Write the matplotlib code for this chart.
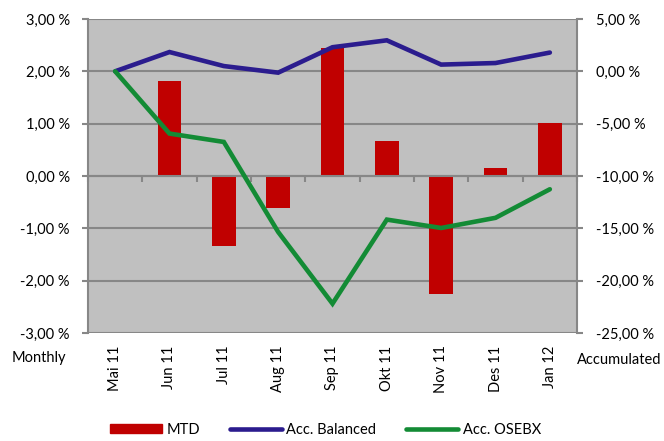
import matplotlib.pyplot as plt
import numpy as np
from matplotlib.ticker import FuncFormatter
from matplotlib.patches import Patch
from matplotlib.lines import Line2D

plt.rcParams['font.family'] = ['Lato', 'DejaVu Sans']

# data (percent)
months = ['Mai 11', 'Jun 11', 'Jul 11', 'Aug 11', 'Sep 11', 'Okt 11', 'Nov 11', 'Des 11', 'Jan 12']
mtd = [0.0, 1.82, -1.33, -0.62, 2.45, 0.66, -2.26, 0.15, 1.02]
acc_balanced = [0.0, 1.84, 0.50, -0.13, 2.30, 2.96, 0.64, 0.79, 1.79]
acc_osebx = [0.0, -5.95, -6.75, -15.35, -22.2, -14.17, -14.97, -14.0, -11.27]

red = '#C00000'
blue = '#2B1C8E'
green = '#138B35'
gray = '#878787'

def pct(v, pos):
    return ('%.2f %%' % v).replace('.', ',')

fig = plt.figure(figsize=(6.64, 4.41), dpi=100)
ax = fig.add_axes([0.1325, 0.245, 0.7365, 0.712])
ax.set_facecolor('#C0C0C0')

x = np.arange(len(months))
ax.bar(x, mtd, width=0.43, color=red, zorder=2)
ax.set_xlim(-0.5, len(months) - 0.5)
ax.set_ylim(-3, 3)
ax.set_yticks(np.arange(-3, 3.1, 1))
ax.yaxis.set_major_formatter(FuncFormatter(pct))
ax.grid(axis='y', color=gray, lw=1.5, zorder=0)
ax.set_axisbelow(True)

# category axis sits on the zero line, ticks at bin edges
ax.spines['bottom'].set_position(('data', 0))
ax.spines['bottom'].set_color(gray)
ax.spines['bottom'].set_linewidth(1.5)
ax.spines['bottom'].set_zorder(3)
ax.set_xticks(np.arange(-0.5, len(months), 1))
ax.set_xticklabels([])
ax.tick_params(axis='x', length=4, width=1.5, color=gray, direction='out')
ax.spines['top'].set_visible(False)
for s in ['left', 'right']:
    ax.spines[s].set_color(gray)
    ax.spines[s].set_linewidth(1.5)
ax.tick_params(axis='y', length=4, width=1.5, color=gray, labelsize=10.5, pad=9)

# month labels at the bottom of the plot area
sec = ax.secondary_xaxis(0.0)
sec.set_xticks(x)
sec.set_xticklabels(months, rotation=90, fontsize=10.5)
sec.tick_params(length=0, pad=9)
sec.spines['bottom'].set_visible(False)

ax2 = ax.twinx()
ax2.plot(x, acc_balanced, color=blue, lw=3.3, solid_capstyle='round', solid_joinstyle='miter')
ax2.plot(x, acc_osebx, color=green, lw=3.3, solid_capstyle='round', solid_joinstyle='miter')
ax2.set_ylim(-25, 5)
ax2.set_yticks(np.arange(-25, 5.1, 5))
ax2.yaxis.set_major_formatter(FuncFormatter(pct))
ax2.tick_params(axis='y', length=4, width=1.5, color=gray, labelsize=10.5, pad=10)
for s in ax2.spines.values():
    s.set_visible(False)

fig.text(0.018, 0.188, 'Monthly', fontsize=10.5, va='center')
fig.text(0.869, 0.184, 'Accumulated', fontsize=10.5, va='center')

handles = [Patch(color=red), Line2D([], [], color=blue, lw=3.3, solid_capstyle='round'),
           Line2D([], [], color=green, lw=3.3, solid_capstyle='round')]
fig.legend(handles, ['MTD', 'Acc. Balanced', 'Acc. OSEBX'], loc='lower center',
           bbox_to_anchor=(0.49, -0.02), ncol=3, frameon=False, fontsize=10.5,
           handlelength=3.6, handleheight=0.6, handletextpad=0.3, columnspacing=2.0)

fig.savefig('out.png', dpi=100)
